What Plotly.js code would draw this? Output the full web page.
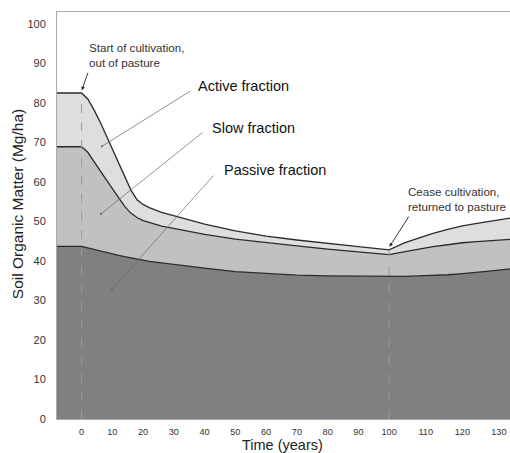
<!DOCTYPE html>
<html>
<head>
<meta charset="utf-8">
<script src="https://cdn.plot.ly/plotly-3.0.1.min.js"></script>
<style>
html,body{margin:0;padding:0;overflow:hidden;background:#fff;}
#chart{width:510px;height:453px;}
</style>
</head>
<body>
<div id="chart"></div>
<script>
// Time (years) of each reading
const years = [-8, 0, 2, 4, 6, 8, 10, 12, 14, 16, 18, 20, 22, 26, 32, 40, 50, 60, 70, 80, 90, 100, 104, 108, 112, 116, 120, 124, 128, 134];
// Soil organic matter fractions (Mg/ha)
const passiveFraction = [43.7, 43.7, 43.3, 42.9, 42.5, 42.1, 41.7, 41.4, 41.1, 40.8, 40.5, 40.2, 39.9, 39.5, 39.0, 38.2, 37.3, 36.8, 36.4, 36.2, 36.1, 36.1, 36.1, 36.2, 36.3, 36.5, 36.8, 37.1, 37.5, 38.1];
const slowFraction    = [25.2, 25.2, 24.2, 22.4, 20.5, 18.5, 16.6, 14.6, 12.7, 11.3, 10.5, 10.0, 9.8, 9.3, 8.9, 8.5, 8.2, 7.8, 7.4, 6.8, 6.2, 5.5, 6.2, 6.8, 7.3, 7.6, 7.8, 7.8, 7.7, 7.4];
const activeFraction  = [13.6, 13.6, 13.5, 13.0, 12.2, 11.2, 10.2, 9.2, 8.0, 5.9, 4.5, 4.1, 3.8, 3.5, 3.1, 2.6, 2.1, 1.7, 1.5, 1.4, 1.3, 1.2, 2.2, 2.8, 3.4, 3.9, 4.3, 4.6, 4.9, 5.5];
// Axis tick labels
const tickYears = [0, 10, 20, 30, 40, 50, 60, 70, 80, 90, 100, 110, 120, 130];
const yTicks = [0, 10, 20, 30, 40, 50, 60, 70, 80, 90, 100];
// Events
const startCultivation = 0;
const ceaseCultivation = 100;

// the reference's time axis is drawn wider after year 100
const stretchAfter = 1.19;
function pos(t){ return t <= ceaseCultivation ? t : ceaseCultivation + (t - ceaseCultivation) * stretchAfter; }

const xs = years.map(pos);
const lineCol = '#2b2b2b';
const traces = [
  {x: xs, y: passiveFraction, name: 'Passive fraction', type: 'scatter', mode: 'lines', stackgroup: 'som',
   fillcolor: '#808080', line: {color: lineCol, width: 1.3}},
  {x: xs, y: slowFraction, name: 'Slow fraction', type: 'scatter', mode: 'lines', stackgroup: 'som',
   fillcolor: '#c1c1c1', line: {color: lineCol, width: 1.3}},
  {x: xs, y: activeFraction, name: 'Active fraction', type: 'scatter', mode: 'lines', stackgroup: 'som',
   fillcolor: '#dedede', line: {color: lineCol, width: 1.3}}
];

function totalAt(t){
  const i = years.indexOf(t);
  return passiveFraction[i] + slowFraction[i] + activeFraction[i];
}

const FONT = 'Liberation Sans, Arial, sans-serif';
const xr = 'x', yr = 'y';
function label(text, x, y, size, color){
  return {text: text, x: x, y: y, xref: xr, yref: yr, showarrow: false, xanchor: 'left', yanchor: 'middle', align: 'left',
          font: {family: FONT, size: size, color: color}};
}
function arrow(x0, y0, x1, y1, head, col, w){
  return {text: '', x: x1, y: y1, ax: x0, ay: y0, xref: xr, yref: yr, axref: xr, ayref: yr, showarrow: true,
          arrowhead: head, arrowsize: 0.8, arrowwidth: w, arrowcolor: col, standoff: 0, startstandoff: 0};
}

const layout = {
  width: 510, height: 453,
  margin: {l: 57, r: 0, t: 12, b: 34},
  paper_bgcolor: '#ffffff', plot_bgcolor: '#ffffff',
  showlegend: false,
  font: {family: FONT, color: '#333'},
  xaxis: {
    range: [-8, 139.3], showgrid: false, zeroline: false,
    tickvals: tickYears.map(pos), ticktext: tickYears.map(String),
    tickfont: {size: 9.2, color: '#333'}, ticks: '', ticklabelstandoff: 4,
    showline: true, linecolor: '#aaaaaa', linewidth: 1, mirror: true
  },
  yaxis: {
    range: [0, 103], showgrid: false, zeroline: false,
    tickvals: yTicks, tickfont: {size: 11, color: '#333'}, ticks: '', ticklabelstandoff: 8,
    showline: true, linecolor: '#aaaaaa', linewidth: 1
  },
  shapes: [startCultivation, ceaseCultivation].map(t => ({
    type: 'line', xref: 'x', yref: 'y', x0: pos(t), x1: pos(t), y0: 0, y1: totalAt(t),
    line: {color: '#9a9a9a', width: 1, dash: 'dash'}, layer: 'above'
  })),
  annotations: [
    label('Start of cultivation,<br>out of pasture', 1.7, 92.2, 11.6, '#333'),
    arrow(2.2, 88.0, 0.1, 83.2, 2, '#222', 0.9),
    label('Active fraction', 37.3, 84.2, 14.5, '#111'),
    arrow(36.0, 83.3, 6.6, 69.0, 6, '#666', 0.7),
    label('Slow fraction', 41.6, 73.7, 14.5, '#111'),
    arrow(39.8, 72.8, 6.3, 51.9, 6, '#666', 0.7),
    label('Passive fraction', 45.7, 63.1, 14.5, '#111'),
    arrow(43.3, 62.0, 9.8, 32.7, 6, '#666', 0.7),
    label('Cease cultivation,<br>returned to pasture', 105.6, 55.8, 11.6, '#333'),
    arrow(106.7, 51.6, 100.1, 43.6, 2, '#222', 0.9),
    {text: 'Time (years)', xref: 'x', yref: 'paper', x: 65.4, y: -0.064, showarrow: false,
     xanchor: 'center', yanchor: 'middle', font: {family: FONT, size: 14.5, color: '#222'}},
    {text: 'Soil Organic Matter (Mg/ha)', xref: 'paper', yref: 'y', x: -0.088, y: 54.4, textangle: -90, showarrow: false,
     xanchor: 'center', yanchor: 'middle', font: {family: FONT, size: 15.5, color: '#222'}}
  ]
};

Plotly.newPlot('chart', traces, layout, {displayModeBar: false, staticPlot: true});
</script>
</body>
</html>
